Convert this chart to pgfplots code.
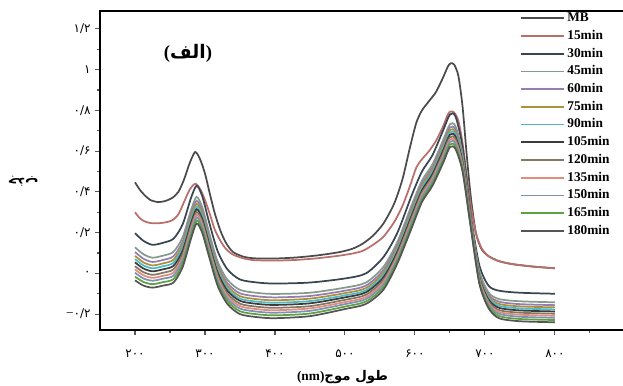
\documentclass[border=0pt]{standalone}
\usepackage{fontspec}
\setmainfont{Liberation Serif}
\newfontfamily\arabicfont[Script=Arabic]{DejaVu Sans}
\usepackage{pgfplots}
\usepackage{pgfplotstable}
\pgfplotsset{compat=1.18}
\TeXXeTstate=1

\definecolor{cMB}{RGB}{75,75,75}
\definecolor{c15}{RGB}{185,110,105}
\definecolor{c30}{RGB}{55,70,80}
\definecolor{c45}{RGB}{135,155,140}
\definecolor{c60}{RGB}{150,125,175}
\definecolor{c75}{RGB}{170,145,60}
\definecolor{c90}{RGB}{80,185,200}
\definecolor{c105}{RGB}{60,60,60}
\definecolor{c120}{RGB}{130,120,100}
\definecolor{c135}{RGB}{225,140,125}
\definecolor{c150}{RGB}{125,145,180}
\definecolor{c165}{RGB}{95,160,65}
\definecolor{c180}{RGB}{85,85,85}

\pgfplotstableread{
nm MB m15
200 0.447 0.300
207 0.410 0.270
214 0.383 0.255
222 0.360 0.247
233 0.350 0.246
243 0.355 0.250
253 0.370 0.260
262 0.400 0.290
270 0.460 0.350
278 0.540 0.410
286 0.596 0.440
293 0.560 0.415
300 0.490 0.360
307 0.390 0.290
314 0.295 0.215
322 0.210 0.160
330 0.150 0.120
340 0.105 0.092
355 0.082 0.074
370 0.074 0.065
400 0.073 0.063
430 0.078 0.066
460 0.088 0.074
490 0.103 0.086
510 0.120 0.097
525 0.145 0.110
540 0.185 0.140
555 0.245 0.180
570 0.340 0.250
582 0.460 0.330
593 0.620 0.430
602 0.740 0.520
610 0.800 0.560
620 0.845 0.600
630 0.890 0.650
640 0.960 0.720
647 1.015 0.780
651 1.031 0.795
656 1.025 0.790
662 0.970 0.750
668 0.820 0.640
674 0.580 0.480
680 0.370 0.330
687 0.200 0.200
695 0.120 0.125
705 0.085 0.085
720 0.060 0.060
740 0.045 0.045
770 0.033 0.033
800 0.025 0.025
}\topdata

\pgfplotstableread{
nm m30 m45 m60 m75 m90 m105 m120 m135 m150 m165 m180
200 0.197 0.128 0.105 0.086 0.070 0.054 0.035 0.019 0.003 -0.016 -0.034
212 0.160 0.094 0.072 0.054 0.039 0.024 0.006 -0.009 -0.025 -0.042 -0.060
225 0.140 0.077 0.056 0.039 0.025 0.010 -0.007 -0.022 -0.036 -0.053 -0.070
240 0.150 0.087 0.066 0.049 0.035 0.020 0.003 -0.012 -0.026 -0.043 -0.060
255 0.170 0.106 0.084 0.067 0.052 0.037 0.020 0.004 -0.011 -0.028 -0.045
268 0.240 0.177 0.156 0.139 0.125 0.110 0.093 0.078 0.064 0.047 0.030
280 0.370 0.310 0.290 0.274 0.260 0.246 0.230 0.216 0.202 0.186 0.170
288 0.430 0.375 0.356 0.341 0.328 0.315 0.301 0.288 0.275 0.260 0.245
296 0.380 0.326 0.308 0.294 0.281 0.268 0.254 0.241 0.229 0.214 0.200
306 0.250 0.199 0.182 0.168 0.157 0.145 0.131 0.119 0.107 0.094 0.080
318 0.110 0.059 0.042 0.028 0.017 0.005 -0.009 -0.021 -0.033 -0.046 -0.060
332 0.020 -0.031 -0.048 -0.062 -0.074 -0.085 -0.099 -0.111 -0.123 -0.136 -0.150
350 -0.030 -0.081 -0.098 -0.112 -0.124 -0.135 -0.149 -0.161 -0.173 -0.186 -0.200
375 -0.045 -0.096 -0.113 -0.127 -0.139 -0.150 -0.164 -0.176 -0.188 -0.201 -0.215
400 -0.050 -0.101 -0.118 -0.132 -0.144 -0.155 -0.169 -0.181 -0.193 -0.206 -0.220
450 -0.045 -0.095 -0.111 -0.124 -0.136 -0.147 -0.161 -0.172 -0.184 -0.197 -0.210
500 -0.025 -0.070 -0.085 -0.097 -0.108 -0.118 -0.130 -0.141 -0.151 -0.163 -0.175
530 0.000 -0.045 -0.060 -0.072 -0.083 -0.093 -0.105 -0.116 -0.126 -0.138 -0.150
555 0.080 0.032 0.016 0.003 -0.008 -0.019 -0.032 -0.043 -0.054 -0.067 -0.080
575 0.200 0.155 0.140 0.128 0.118 0.107 0.095 0.085 0.074 0.062 0.050
595 0.380 0.332 0.316 0.303 0.292 0.281 0.268 0.257 0.246 0.233 0.220
610 0.500 0.455 0.440 0.428 0.418 0.407 0.395 0.385 0.374 0.362 0.350
625 0.580 0.535 0.520 0.508 0.498 0.487 0.475 0.465 0.454 0.442 0.430
640 0.700 0.652 0.636 0.623 0.612 0.601 0.588 0.577 0.566 0.553 0.540
650 0.780 0.732 0.716 0.703 0.692 0.681 0.668 0.657 0.646 0.633 0.620
658 0.770 0.722 0.706 0.693 0.682 0.671 0.658 0.647 0.636 0.623 0.610
668 0.620 0.584 0.572 0.562 0.554 0.546 0.536 0.528 0.519 0.510 0.500
680 0.280 0.262 0.256 0.251 0.247 0.243 0.238 0.234 0.230 0.225 0.220
692 0.040 0.013 0.004 -0.003 -0.010 -0.016 -0.023 -0.029 -0.036 -0.043 -0.050
705 -0.060 -0.093 -0.104 -0.113 -0.121 -0.128 -0.137 -0.145 -0.152 -0.161 -0.170
720 -0.085 -0.126 -0.139 -0.150 -0.159 -0.169 -0.180 -0.189 -0.198 -0.209 -0.220
750 -0.095 -0.137 -0.151 -0.162 -0.172 -0.182 -0.193 -0.203 -0.213 -0.224 -0.235
800 -0.100 -0.142 -0.156 -0.167 -0.177 -0.187 -0.198 -0.208 -0.218 -0.229 -0.240
}\lowdata

\begin{document}
\begin{tikzpicture}
\begin{axis}[
  at={(0pt,0pt)}, anchor=south west,
  scale only axis, width=395.25pt, height=239.25pt,
  xmin=150, xmax=903, ymin=-0.278, ymax=1.288,
  axis line style={line width=1.5pt},
  tick align=outside, xtick pos=bottom, ytick pos=left,
  major tick length=3.5pt, minor tick length=2.2pt,
  tick style={gray!70!black, line width=0.8pt},
  xtick={200,300,400,500,600,700,800},
  xticklabels={۲۰۰,۳۰۰,۴۰۰,۵۰۰,۶۰۰,۷۰۰,۸۰۰},
  minor xtick={250,350,450,550,650,750,850},
  ytick={-0.2,0,0.2,0.4,0.6,0.8,1,1.2},
  yticklabels={{\rmfamily\fontsize{10}{10}\selectfont −}۰/۲,۰,۰/۲,۰/۴,۰/۶,۰/۸,۱,۱/۲},
  minor ytick={-0.1,0.1,0.3,0.5,0.7,0.9,1.1},
  ticklabel style={font=\arabicfont\fontsize{9}{10}\selectfont},
  xticklabel style={yshift=-8pt},
  xlabel={{\rmfamily\bfseries(nm)}{\arabicfont\bfseries\beginR طول موج\endR}},
  xlabel style={at={(axis description cs:0.46,-0.147)}, anchor=center, font=\fontsize{10}{11}\selectfont},
  ylabel={{\arabicfont\bfseries\beginR جذب\endR}},
  ylabel style={at={(axis description cs:-0.146,0.465)}, anchor=center, rotate=90, font=\fontsize{10}{11}\selectfont},
  legend style={draw=none, fill=none, at={(0.797,0.997)}, anchor=north west,
    inner sep=0pt, row sep=4.3pt,
    nodes={inner xsep=2pt, inner ysep=0pt, text height=7pt, text depth=2pt},
    font=\bfseries\fontsize{10}{10}\selectfont},
  legend cell align=left,
  legend image code/.code={\draw[#1] (0pt,0pt) -- (32pt,0pt);},
  every axis plot/.append style={line width=1.3pt, smooth, tension=0.45},
]
\addplot[cMB] table[x=nm,y=MB]{\topdata};
\addplot[c15] table[x=nm,y=m15]{\topdata};
\addplot[c30] table[x=nm,y=m30]{\lowdata};
\addplot[c45] table[x=nm,y=m45]{\lowdata};
\addplot[c60] table[x=nm,y=m60]{\lowdata};
\addplot[c75] table[x=nm,y=m75]{\lowdata};
\addplot[c90] table[x=nm,y=m90]{\lowdata};
\addplot[c105] table[x=nm,y=m105]{\lowdata};
\addplot[c120] table[x=nm,y=m120]{\lowdata};
\addplot[c135] table[x=nm,y=m135]{\lowdata};
\addplot[c150] table[x=nm,y=m150]{\lowdata};
\addplot[c165] table[x=nm,y=m165]{\lowdata};
\addplot[c180] table[x=nm,y=m180]{\lowdata};
\legend{MB,15min,30min,45min,60min,75min,90min,105min,120min,135min,150min,165min,180min}
\node[font=\bfseries\fontsize{14}{15}\selectfont] at (axis description cs:0.167,0.868) {{\rmfamily(}{\arabicfont\beginR الف\endR}{\rmfamily)}};
\end{axis}
\pgfresetboundingbox
\path[use as bounding box] (-75pt,-41.25pt) rectangle (392.25pt,247.5pt);
\end{tikzpicture}
\end{document}
